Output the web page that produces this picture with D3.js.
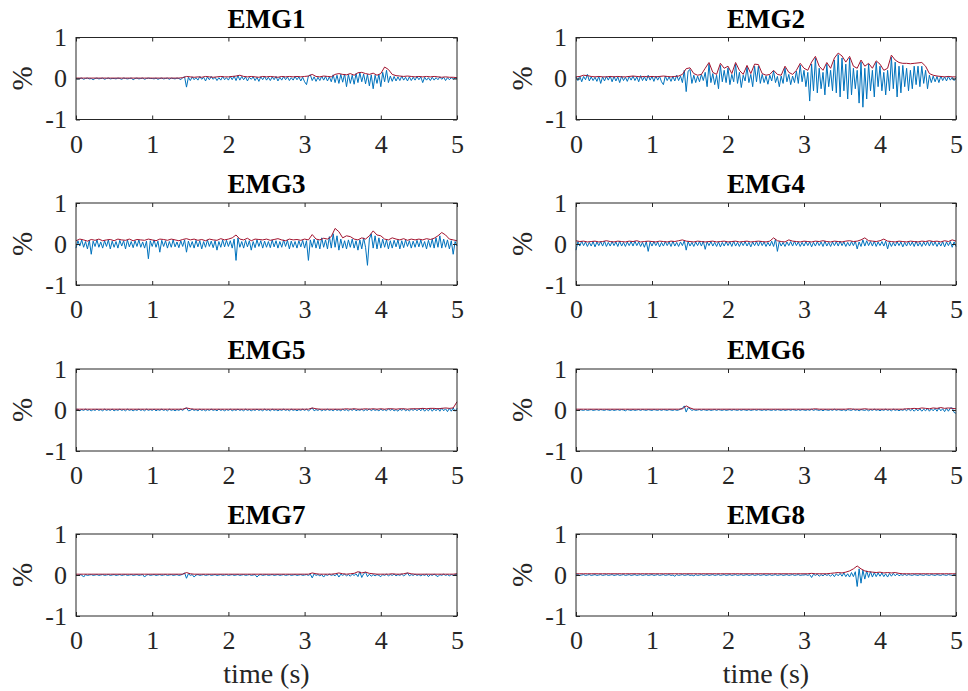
<!DOCTYPE html>
<html>
<head>
<meta charset="utf-8">
<script src="https://cdn.jsdelivr.net/npm/d3@7"></script>
<style>
body { margin: 0; background: #fff; }
</style>
</head>
<body>
<svg></svg>
<script>
var channels = ["EMG1", "EMG2", "EMG3", "EMG4", "EMG5", "EMG6", "EMG7", "EMG8"];
var xTicks = [0, 1, 2, 3, 4, 5];
var yTicks = [-1, 0, 1];
var xLabel = "time (s)", yLabel = "%";

// raw signal, one sample every 0.025 s (0..5 s)
var raw1 = [
0,-.01,0,.01,-.02,0,.01,-.01,0,-.03,0,.01,-.01,0,.01,-.02,0,.01,-.01,0,
0,-.01,.01,0,-.02,.01,0,-.01,0,.01,-.03,0,.01,-.01,0,.01,-.02,0,.01,0,
0,-.01,.01,-.02,0,.01,-.01,0,.01,-.02,.01,0,-.01,.01,0,-.03,.02,.04,-.21,.03,
-.05,.04,-.03,.02,-.04,.05,-.02,.03,-.06,.04,-.03,.05,-.02,.03,-.05,.02,-.04,.05,-.03,.02,
-.04,.05,-.03,.06,-.05,.07,-.04,.05,-.03,.04,-.06,.03,-.02,.04,-.05,.03,-.07,.04,-.03,.05,
-.04,.03,-.05,.04,-.03,.05,-.06,.03,-.04,.05,-.03,.04,-.05,.02,-.04,.05,-.03,.04,-.06,.03,
-.08,-.15,.06,.09,-.05,.04,-.07,.03,-.05,.06,-.04,.05,-.06,.04,-.08,.09,-.1,.08,-.12,.1,
-.09,.11,-.2,.1,-.12,.08,-.14,.12,-.1,.14,-.08,.11,-.13,.1,-.18,.09,-.25,.08,-.12,.1,
-.2,.15,-.08,.2,-.1,.06,-.07,.05,-.06,.04,-.05,.06,-.04,.03,-.06,.04,-.05,.03,-.04,.05,
-.03,.04,-.1,.03,-.04,.02,-.05,.03,-.04,.02,-.03,.04,-.02,.03,-.05,.02,-.03,.02,-.02,.01,
0];
var raw2 = [
.04,-.05,.06,-.08,.05,-.03,.1,-.06,.04,-.05,.03,-.07,.05,-.12,.04,-.06,.05,-.04,.06,-.08,
.05,-.06,.04,-.1,.06,-.05,.03,-.07,.05,-.04,.06,-.05,.04,-.08,.07,-.05,.04,-.06,.08,-.04,
.05,-.07,.06,-.04,.05,-.08,-.15,.06,-.05,.04,-.07,.05,-.06,.08,-.05,.06,-.1,.2,-.32,.18,
.22,-.12,.08,-.1,.06,-.08,.1,-.05,.15,-.2,.35,-.1,.12,-.15,.08,-.25,.32,-.08,.2,-.1,
.26,-.15,.1,-.08,.35,-.12,.15,-.22,.08,-.06,.28,-.1,.1,-.2,.3,-.08,.3,-.12,.1,-.1,
.06,-.14,.08,-.06,.18,-.1,.05,-.2,.06,-.12,.26,-.08,.1,-.15,.06,-.1,.18,-.12,.33,-.08,
.2,-.2,.15,-.55,.35,-.3,.5,-.35,.25,-.25,.15,-.4,.35,-.2,.2,-.3,.45,-.35,.58,-.45,
.5,-.3,.35,-.5,.5,-.4,.25,-.25,.2,-.6,.4,-.7,.25,-.5,.35,-.3,.2,-.45,.4,-.2,
.3,-.3,.15,-.4,.2,-.3,.52,-.25,.4,-.45,.3,-.35,.32,-.2,.25,-.3,.2,-.25,.3,-.15,
.3,-.2,.3,-.12,.2,-.25,.08,-.1,.06,-.08,.05,-.1,.06,-.05,.04,-.06,.05,-.04,.03,-.05,
.02];
var raw3 = [
-.1,.08,-.05,.1,-.08,.06,-.12,.09,-.25,.07,-.06,.1,-.08,.05,-.1,.08,-.06,.1,-.12,.07,
-.08,.06,-.1,.09,-.05,.08,-.12,.1,-.07,.06,-.09,.08,-.06,.1,-.08,.05,-.1,.07,-.36,.08,
-.06,.1,-.08,.07,-.2,.09,-.06,.08,-.1,.06,-.08,.1,-.07,.05,-.09,.08,-.06,.1,-.2,.07,
-.08,.06,-.1,.09,-.07,.08,-.12,.06,-.08,.1,-.06,.07,-.09,.08,-.15,.06,-.08,.1,-.07,.09,
-.06,.08,-.1,.12,-.4,.15,-.08,.06,-.1,.09,-.07,.08,-.15,.06,-.09,.1,-.06,.08,-.1,.07,
-.08,.06,-.09,.1,-.07,.08,-.1,.06,-.08,.1,-.06,.09,-.12,.07,-.08,.06,-.1,.08,-.07,.09,
-.1,.08,-.4,.1,-.08,.12,-.1,.09,-.12,.15,-.08,.1,-.12,.18,-.1,.25,-.08,.2,-.15,.12,
-.1,.08,-.12,.1,-.08,.12,-.1,.08,-.15,.1,-.12,.15,-.08,-.52,.12,.25,-.1,.2,-.12,.15,
-.1,.12,-.08,.1,-.12,.08,-.1,.09,-.07,.1,-.12,.08,-.09,.1,-.06,.08,-.1,.07,-.08,.09,
-.07,.1,-.08,.06,-.12,.09,-.08,.12,-.1,.15,-.08,.2,-.1,.12,-.08,.1,-.12,.08,-.25,.06,
-.05];
var raw4 = [
-.15,.06,-.05,.07,-.04,.05,-.06,.04,-.05,.06,-.07,.05,-.04,.06,-.05,.07,-.06,.04,-.05,.06,
-.04,.05,-.06,.07,-.05,.04,-.06,.05,-.04,.06,-.05,.07,-.04,.05,-.06,.04,-.08,.06,-.18,.05,
-.05,.06,-.04,.05,-.07,.04,-.05,.06,-.04,.05,-.06,.07,-.05,.04,-.06,.05,-.04,.08,-.15,.06,
-.05,.04,-.06,.05,-.04,.06,-.05,.07,-.13,.05,-.04,.06,-.05,.04,-.06,.05,-.07,.04,-.05,.06,
-.04,.05,-.06,.07,-.05,.04,-.06,.05,-.04,.06,-.05,.04,-.07,.05,-.04,.06,-.05,.07,-.04,.05,
-.06,.04,-.05,.07,-.06,.12,-.18,.06,-.05,.04,-.06,.05,-.04,.06,-.05,.07,-.04,.05,-.06,.04,
-.05,.06,-.04,.05,-.07,.04,-.05,.06,-.04,.05,-.06,.07,-.05,.04,-.06,.05,-.04,.06,-.05,.07,
-.04,.05,-.06,.04,-.05,.06,-.04,.07,-.12,.05,-.06,.1,-.05,.08,-.04,.06,-.05,.07,-.06,.05,
-.04,.06,-.05,.07,-.12,.05,-.06,.04,-.05,.06,-.04,.05,-.07,.04,-.05,.06,-.04,.05,-.06,.07,
-.05,.04,-.06,.05,-.04,.06,-.05,.07,-.04,.05,-.06,.04,-.05,.06,-.07,.05,-.04,.06,-.08,.05,
-.06];
var raw5 = [
-.01,.02,-.02,.01,-.01,.02,-.01,.01,-.02,.01,-.01,.02,-.01,.01,-.02,.02,-.01,.01,-.01,.02,
-.02,.01,-.01,.02,-.01,.01,-.02,.02,-.01,.01,-.02,.01,-.01,.02,-.01,.01,-.02,.02,-.01,.01,
-.01,.02,-.02,.01,-.01,.02,-.01,.01,-.02,.02,-.01,.01,-.02,.01,-.01,.02,-.01,.03,.05,-.02,
-.01,.02,-.01,.01,-.02,.02,-.01,.01,-.02,.01,-.01,.02,-.01,.01,-.02,.02,-.01,.01,-.02,.01,
-.01,.02,-.02,.01,-.01,.02,-.01,.01,-.02,.02,-.01,.01,-.02,.01,-.01,.02,-.01,.01,-.02,.02,
-.01,.01,-.02,.02,-.01,.01,-.02,.01,-.01,.02,-.01,.01,-.02,.02,-.01,.01,-.02,.01,-.01,.02,
-.01,.02,-.02,.01,.05,-.02,.01,-.01,.02,-.02,.01,-.01,.02,-.01,.01,-.02,.02,-.01,.01,-.02,
.02,-.01,.01,-.02,.02,-.01,.03,-.02,.01,-.01,.02,-.02,.01,-.01,.03,-.02,.02,-.01,.01,-.02,
.02,-.01,.01,-.02,.03,-.01,.02,-.02,.01,-.03,.02,-.01,.03,-.02,.01,-.02,.02,-.01,.03,-.02,
.03,-.02,.04,-.03,.02,-.02,.04,-.03,.03,-.02,.04,-.03,.05,-.02,.03,-.04,.04,-.03,.05,-.03,
.04];
var raw6 = [
0,-.01,.01,0,-.01,.01,-.01,0,.01,-.01,0,.01,-.01,.01,0,-.01,.01,0,-.01,.01,
-.01,0,.01,-.01,.01,0,-.02,.01,0,-.01,.01,-.01,0,.01,-.01,.01,0,-.01,.01,0,
-.01,.01,0,-.01,.01,-.01,.01,0,-.01,.01,0,-.01,.01,-.01,0,.02,.04,.1,-.05,.06,
.03,-.01,.01,-.01,0,.01,-.01,.01,0,-.01,.01,-.01,0,.01,-.01,.01,0,-.01,.01,-.01,
0,.01,-.01,.01,0,-.01,.01,-.01,.01,0,-.01,.01,-.01,0,.01,-.01,.01,0,-.01,.01,
-.01,.01,0,-.01,.01,-.01,.01,0,-.01,.01,-.01,0,.01,-.01,.01,0,-.01,.01,-.01,.01,
0,-.01,.01,-.01,.02,-.01,.01,0,-.01,.01,-.02,.01,0,-.01,.01,-.01,.02,-.01,.01,0,
-.01,.01,-.02,.01,0,-.01,.02,-.01,.01,-.02,.01,0,-.01,.01,-.02,.01,-.01,.02,-.01,.01,
-.02,.01,-.01,.02,-.01,.01,-.02,.02,-.01,.01,-.02,.01,-.01,.02,-.02,.03,-.02,.02,-.03,.02,
-.02,.03,-.03,.02,-.02,.04,-.03,.03,-.02,.04,-.03,.05,-.02,.03,-.04,.04,-.03,.05,.05,-.06,
-.08];
var raw7 = [
0,-.01,.01,0,-.05,.01,-.01,0,.01,-.01,0,.01,-.01,0,.01,-.01,0,.01,-.01,0,
.01,-.01,0,.01,-.01,0,.01,-.01,0,.01,-.01,0,.01,-.01,0,.01,-.05,0,.01,-.01,
0,.01,-.01,0,.01,-.01,0,.01,-.01,0,.01,-.01,0,.01,-.01,0,.02,.05,-.08,.03,
-.01,.01,-.05,0,.01,-.01,0,.01,-.01,0,.01,-.01,0,.01,-.01,0,.01,-.01,0,.01,
-.01,0,.01,-.01,0,.01,-.01,0,.01,-.01,0,.01,-.01,0,.01,-.05,0,.01,-.01,0,
.01,-.01,0,.01,-.01,0,.01,-.01,0,.01,-.01,0,.01,-.01,0,.01,-.01,0,.01,-.01,
0,.01,-.01,.02,-.07,.03,-.01,.01,-.02,.01,-.05,.01,-.01,.02,-.01,.01,-.02,.03,-.05,.02,
-.01,.02,-.02,.01,-.03,.02,-.01,.03,-.04,.08,-.06,.03,.07,-.04,.02,-.03,.01,-.02,.01,-.01,
-.04,.01,-.01,.02,-.02,.01,-.01,.02,-.02,.01,-.01,.02,-.02,.01,.05,-.02,.01,-.01,.02,-.01,
.01,-.02,.01,-.01,.02,-.04,.01,-.01,.02,-.01,-.04,.01,-.01,.02,-.01,.01,-.02,.01,-.01,.01,
.02];
var raw8 = [
0,.01,-.01,0,.01,-.01,0,.01,-.01,0,.01,-.01,0,.01,-.01,0,.01,-.01,0,.01,
-.01,0,.01,-.01,0,.01,-.01,0,.01,-.01,0,.01,-.01,0,.01,-.01,0,.01,-.01,0,
.01,-.01,0,.01,-.01,0,.01,-.01,0,.01,-.01,0,-.03,.01,-.01,0,.01,-.01,0,.01,
-.01,0,-.02,.01,-.01,0,.01,-.01,0,.01,-.01,0,.01,-.01,0,.01,-.01,0,.01,-.01,
0,.01,-.01,0,.01,-.01,0,.01,-.01,0,.01,-.01,0,.01,-.01,0,.01,-.01,0,.01,
-.01,0,.01,-.01,0,.01,-.01,0,.01,-.01,0,.01,-.01,0,.01,-.01,0,.01,-.01,0,
0,.01,-.01,.01,-.06,.02,-.01,.02,-.03,.01,-.02,.02,-.01,.01,-.03,.02,-.04,.03,-.02,.04,
-.03,.05,-.04,.03,-.05,.06,-.04,.08,-.28,.15,-.2,.12,-.1,.1,-.06,.08,-.05,.06,-.04,.05,
-.03,.05,-.04,.03,-.05,.04,-.03,.04,-.02,.03,-.02,.01,-.01,.02,-.01,.01,0,-.01,.01,0,
-.01,.01,0,-.01,.01,0,-.01,.01,0,-.01,.01,0,-.01,.01,0,-.01,.01,0,-.01,.01,
0];

// envelope, one sample every 0.05 s (0..5 s)
var env1 = [
.01,.01,.01,.01,.01,.01,.01,.01,.01,.01,
.01,.01,.01,.01,.01,.01,.01,.01,.01,.01,
.01,.01,.01,.01,.01,.01,.01,.01,.02,.05,
.04,.03,.04,.03,.05,.04,.03,.04,.05,.04,
.04,.05,.06,.08,.05,.04,.05,.04,.03,.05,
.04,.05,.04,.03,.05,.04,.05,.04,.05,.04,
.05,.06,.1,.05,.04,.06,.05,.04,.1,.12,
.1,.09,.12,.08,.14,.15,.12,.1,.13,.08,
.12,.28,.22,.1,.07,.06,.05,.06,.05,.04,
.05,.04,.05,.04,.05,.04,.03,.04,.03,.03,
.02];
var env2 = [
.04,.05,.08,.07,.05,.04,.05,.04,.04,.05,
.04,.05,.04,.04,.05,.06,.05,.04,.05,.04,
.05,.04,.05,.06,.05,.04,.05,.06,.1,.24,
.26,.12,.08,.1,.25,.39,.15,.1,.37,.25,
.3,.12,.39,.2,.1,.32,.12,.35,.34,.12,
.08,.1,.2,.1,.08,.3,.15,.1,.2,.37,
.25,.2,.4,.54,.3,.2,.39,.25,.5,.62,
.55,.4,.54,.3,.25,.45,.3,.37,.25,.43,
.35,.2,.25,.57,.45,.39,.37,.37,.36,.37,
.38,.39,.3,.12,.08,.06,.05,.04,.05,.04,
.04];
var env3 = [
.08,.12,.1,.07,.11,.09,.12,.08,.1,.11,
.08,.12,.1,.09,.12,.08,.11,.1,.09,.12,
.1,.08,.12,.11,.09,.12,.1,.08,.11,.13,
.1,.12,.09,.11,.08,.12,.1,.09,.13,.1,
.12,.15,.22,.12,.1,.14,.08,.12,.11,.1,
.12,.09,.11,.13,.1,.08,.12,.1,.11,.09,
.12,.1,.23,.12,.1,.14,.12,.18,.38,.3,
.15,.2,.18,.12,.1,.15,.12,.2,.32,.22,
.2,.12,.1,.15,.12,.1,.13,.09,.12,.1,
.12,.1,.13,.11,.14,.2,.28,.22,.12,.1,
.08];
var env4 = [
.08,.06,.07,.05,.06,.07,.05,.06,.08,.06,
.05,.07,.06,.05,.07,.06,.08,.05,.06,.07,
.06,.05,.07,.06,.05,.07,.06,.08,.1,.07,
.06,.05,.07,.06,.05,.06,.07,.05,.06,.07,
.05,.06,.07,.05,.06,.07,.05,.06,.07,.06,
.05,.07,.15,.08,.06,.05,.1,.07,.06,.05,
.07,.06,.05,.07,.06,.08,.06,.05,.07,.06,
.05,.07,.08,.06,.07,.1,.15,.08,.07,.06,
.08,.12,.07,.06,.05,.07,.06,.05,.07,.06,
.05,.07,.06,.08,.06,.07,.05,.08,.06,.1,
.07];
var env5 = [
.02,.02,.02,.02,.02,.02,.02,.02,.02,.02,
.02,.02,.02,.02,.02,.02,.02,.02,.02,.02,
.02,.02,.02,.02,.02,.02,.02,.02,.02,.05,
.03,.02,.02,.02,.02,.02,.02,.02,.02,.02,
.02,.02,.02,.02,.02,.02,.02,.02,.02,.02,
.02,.02,.02,.02,.02,.02,.02,.02,.02,.02,
.02,.02,.05,.03,.02,.02,.02,.02,.02,.02,
.02,.03,.02,.03,.02,.02,.03,.02,.03,.02,
.03,.02,.03,.03,.02,.03,.03,.02,.03,.03,
.03,.04,.03,.04,.04,.03,.04,.05,.04,.05,
.2];
var env6 = [
.02,.02,.02,.02,.02,.02,.02,.02,.02,.02,
.02,.02,.02,.02,.02,.02,.02,.02,.02,.02,
.02,.02,.02,.02,.02,.02,.02,.02,.03,.1,
.05,.02,.02,.02,.02,.02,.02,.02,.02,.02,
.02,.02,.02,.02,.02,.02,.02,.02,.02,.02,
.02,.02,.02,.02,.02,.02,.02,.02,.02,.02,
.02,.02,.02,.03,.02,.02,.02,.02,.02,.02,
.02,.02,.03,.02,.02,.02,.03,.02,.02,.02,
.02,.02,.02,.02,.02,.02,.02,.03,.03,.04,
.03,.05,.04,.03,.05,.04,.06,.04,.05,.04,
.03];
var env7 = [
.02,.02,.02,.02,.02,.02,.02,.02,.02,.02,
.02,.02,.02,.02,.02,.02,.02,.02,.02,.02,
.02,.02,.02,.02,.02,.02,.02,.02,.02,.06,
.03,.02,.02,.02,.02,.02,.02,.02,.02,.02,
.02,.02,.02,.02,.02,.02,.02,.02,.02,.02,
.02,.02,.02,.02,.02,.02,.02,.02,.02,.02,
.02,.02,.05,.03,.02,.02,.02,.02,.03,.05,
.03,.02,.03,.04,.08,.05,.07,.04,.03,.02,
.02,.02,.02,.03,.02,.02,.03,.05,.03,.02,
.02,.02,.02,.02,.02,.02,.02,.02,.02,.02,
.03];
var env8 = [
.03,.03,.03,.03,.03,.03,.03,.03,.03,.03,
.03,.03,.03,.03,.03,.03,.03,.03,.03,.03,
.03,.03,.03,.03,.03,.03,.03,.03,.03,.03,
.03,.03,.03,.03,.03,.03,.03,.03,.03,.03,
.03,.03,.03,.03,.03,.03,.03,.03,.03,.03,
.03,.03,.03,.03,.03,.03,.03,.03,.03,.03,
.03,.03,.04,.03,.03,.03,.03,.04,.05,.06,
.05,.07,.1,.15,.22,.15,.1,.08,.07,.06,
.07,.05,.06,.05,.06,.04,.03,.03,.03,.03,
.03,.03,.03,.03,.03,.03,.03,.03,.03,.03,
.03];

var rawData = [raw1, raw2, raw3, raw4, raw5, raw6, raw7, raw8];
var envData = [env1, env2, env3, env4, env5, env6, env7, env8];

var svgWidth = 968, svgHeight = 691;
var colX = [76, 576], colW = [381, 380];
var rowY = [37.5, 203, 369, 534], rowH = 82;
var font = "'Liberation Serif', 'Times New Roman', serif";
var axisColor = "#262626";

var svg = d3.select("svg")
  .attr("width", svgWidth)
  .attr("height", svgHeight)
  .style("display", "block");

svg.append("rect")
  .attr("width", svgWidth)
  .attr("height", svgHeight)
  .attr("fill", "#fff");

channels.forEach(function (name, k) {
  var c = k % 2, r = Math.floor(k / 2);
  var w = colW[c], h = rowH;
  var g = svg.append("g")
    .attr("transform", "translate(" + colX[c] + "," + rowY[r] + ")");

  var x = d3.scaleLinear().domain([0, 5]).range([0, w]);
  var y = d3.scaleLinear().domain([-1, 1]).range([h, 0]);

  g.append("rect").attr("width", w).attr("height", h).attr("fill", "#fff");

  var line = d3.line()
    .x(function (d, i, arr) { return x(i * 5 / (arr.length - 1)); })
    .y(function (d) { return y(d); });

  g.append("path")
    .datum(rawData[k])
    .attr("d", line)
    .attr("fill", "none")
    .attr("stroke", "#0072BD")
    .attr("stroke-width", 1);

  g.append("path")
    .datum(envData[k])
    .attr("d", line)
    .attr("fill", "none")
    .attr("stroke", "#A2142F")
    .attr("stroke-width", 1);

  var fmt = function (d) { return String(d); };

  var bottom = g.append("g")
    .attr("transform", "translate(0," + h + ")")
    .call(d3.axisBottom(x).tickValues(xTicks).tickSize(-4).tickPadding(15).tickFormat(fmt));
  var top = g.append("g")
    .call(d3.axisTop(x).tickValues(xTicks).tickSize(-4).tickFormat(""));
  var left = g.append("g")
    .call(d3.axisLeft(y).tickValues(yTicks).tickSize(-4).tickPadding(9).tickFormat(fmt));
  var right = g.append("g")
    .attr("transform", "translate(" + w + ",0)")
    .call(d3.axisRight(y).tickValues(yTicks).tickSize(-4).tickFormat(""));

  [bottom, top, left, right].forEach(function (a) {
    a.select(".domain").remove();
    a.selectAll(".tick line").attr("stroke", axisColor);
    a.selectAll(".tick text")
      .attr("fill", axisColor)
      .style("font-family", font)
      .style("font-size", "26px");
  });

  g.append("rect")
    .attr("width", w)
    .attr("height", h)
    .attr("fill", "none")
    .attr("stroke", axisColor)
    .attr("stroke-width", 1);

  g.append("text")
    .text(name)
    .attr("x", w / 2)
    .attr("y", -10)
    .attr("text-anchor", "middle")
    .attr("fill", "#000")
    .style("font-family", font)
    .style("font-weight", "bold")
    .style("font-size", "27px");

  g.append("text")
    .text(yLabel)
    .attr("transform", "translate(-44," + (h / 2) + ") rotate(-90)")
    .attr("text-anchor", "middle")
    .attr("fill", axisColor)
    .style("font-family", font)
    .style("font-size", "29px");

  if (r === 3) {
    g.append("text")
      .text(xLabel)
      .attr("x", w / 2)
      .attr("y", h + 67)
      .attr("text-anchor", "middle")
      .attr("fill", axisColor)
      .style("font-family", font)
      .style("font-size", "28px");
  }
});
</script>
</body>
</html>
